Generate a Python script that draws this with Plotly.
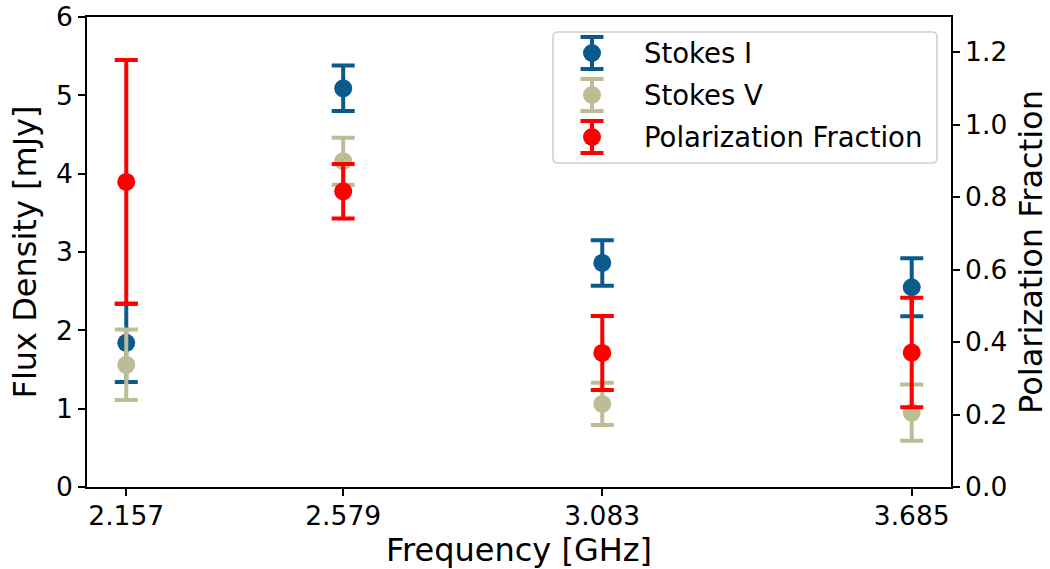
import plotly.graph_objects as go

# Observing bands (GHz)
freq = [2.157, 2.579, 3.083, 3.685]
freq_labels = ["2.157", "2.579", "3.083", "3.685"]

# Stokes I flux density and 1-sigma errors (mJy)
stokes_i = [1.84, 5.09, 2.86, 2.55]
stokes_i_err = [0.50, 0.29, 0.29, 0.37]

# Stokes V flux density and 1-sigma errors (mJy)
stokes_v = [1.56, 4.16, 1.06, 0.95]
stokes_v_err = [0.45, 0.30, 0.27, 0.36]

# Circular polarization fraction |V|/I and errors
pol_frac = [0.842, 0.816, 0.370, 0.371]
pol_frac_err = [0.336, 0.075, 0.102, 0.151]

series_names = ["Stokes I", "Stokes V", "Polarization Fraction"]
series_colors = ["#0b5a8c", "#bdbc94", "#ff0000"]

FONT = "DejaVu Sans"
TICK_SIZE = 26.5
LEGEND_SIZE = 27.5
TITLE_SIZE = 32
W, H = 1050, 569
L, R, T, B = 87, 99, 17, 82
PW, PH = W - L - R, H - T - B

MARKER = 18
ERR_W = 11.5
ERR_T = 4

fig = go.Figure()

for name, color, y, err, yax in [
    (series_names[0], series_colors[0], stokes_i, stokes_i_err, "y"),
    (series_names[1], series_colors[1], stokes_v, stokes_v_err, "y"),
    (series_names[2], series_colors[2], pol_frac, pol_frac_err, "y2"),
]:
    fig.add_trace(go.Scatter(
        x=freq, y=y, name=name, mode="markers", yaxis=yax,
        marker=dict(size=MARKER, color=color),
        error_y=dict(type="data", array=err, visible=True,
                     color=color, thickness=ERR_T, width=ERR_W),
        showlegend=False,
    ))

# x-range with 5% padding around the outermost bands
span = freq[-1] - freq[0]
xr = [freq[0] - 0.05 * span, freq[-1] + 0.05 * span]

axis_common = dict(
    showline=True, linecolor="black", linewidth=1.6,
    ticks="outside", ticklen=7, tickwidth=1.6, tickcolor="black",
    showgrid=False, zeroline=False, automargin=False,
    tickfont=dict(family=FONT, size=TICK_SIZE, color="black"),
)

fig.update_layout(
    width=W, height=H,
    margin=dict(l=L, r=R, t=T, b=B, autoexpand=False),
    paper_bgcolor="white", plot_bgcolor="white",
    font=dict(family=FONT, color="black"),
    xaxis=dict(
        range=xr, tickmode="array", tickvals=freq, ticktext=freq_labels,
        mirror=True, ticklabelstandoff=-3,
        title=dict(text="Frequency [GHz]", font=dict(family=FONT, size=TITLE_SIZE), standoff=9),
        **axis_common,
    ),
    yaxis=dict(
        range=[0, 6], dtick=1,
        title=dict(text="Flux Density [mJy]", font=dict(family=FONT, size=TITLE_SIZE), standoff=10),
        **axis_common,
    ),
    yaxis2=dict(
        range=[0, 1.297], dtick=0.2, tickformat=".1f",
        overlaying="y", side="right",
        title=dict(text="Polarization Fraction", font=dict(family=FONT, size=TITLE_SIZE), standoff=15),
        **axis_common,
    ),
)

# Hand-drawn legend box with error-bar icons (pixel offsets inside the plot area)
def px(xp):
    return (xp - L) / PW


def py(yp):
    return (H - B - yp) / PH


box_x0, box_x1, box_y0, box_y1, rad = 553, 937, 32, 163, 5
path = (
    f"M {px(box_x0 + rad)},{py(box_y0)} L {px(box_x1 - rad)},{py(box_y0)} "
    f"Q {px(box_x1)},{py(box_y0)} {px(box_x1)},{py(box_y0 + rad)} "
    f"L {px(box_x1)},{py(box_y1 - rad)} "
    f"Q {px(box_x1)},{py(box_y1)} {px(box_x1 - rad)},{py(box_y1)} "
    f"L {px(box_x0 + rad)},{py(box_y1)} "
    f"Q {px(box_x0)},{py(box_y1)} {px(box_x0)},{py(box_y1 - rad)} "
    f"L {px(box_x0)},{py(box_y0 + rad)} "
    f"Q {px(box_x0)},{py(box_y0)} {px(box_x0 + rad)},{py(box_y0)} Z"
)
fig.add_shape(type="path", path=path, xref="paper", yref="paper",
              fillcolor="rgba(255,255,255,0.8)", line=dict(color="#d0d0d0", width=1.6),
              layer="above")

icon_x = 592
text_x = 642
row_y = [53, 95, 137]
half = 16
for name, color, yc in zip(series_names, series_colors, row_y):
    fig.add_shape(type="line", xref="paper", yref="paper",
                  x0=px(icon_x), x1=px(icon_x), y0=py(yc - half), y1=py(yc + half),
                  line=dict(color=color, width=ERR_T), layer="above")
    for cy in (yc - half, yc + half):
        fig.add_shape(type="line", xref="paper", yref="paper",
                      x0=px(icon_x - ERR_W), x1=px(icon_x + ERR_W), y0=py(cy), y1=py(cy),
                      line=dict(color=color, width=ERR_T), layer="above")
    r = MARKER / 2
    fig.add_shape(type="circle", xref="paper", yref="paper",
                  x0=px(icon_x - r), x1=px(icon_x + r), y0=py(yc + r), y1=py(yc - r),
                  fillcolor=color, line=dict(width=0), layer="above")
    fig.add_annotation(x=px(text_x), y=py(yc), xref="paper", yref="paper",
                       text=name, showarrow=False, xanchor="left", yanchor="middle",
                       font=dict(family=FONT, size=LEGEND_SIZE, color="black"))

fig.write_html("out.html")
